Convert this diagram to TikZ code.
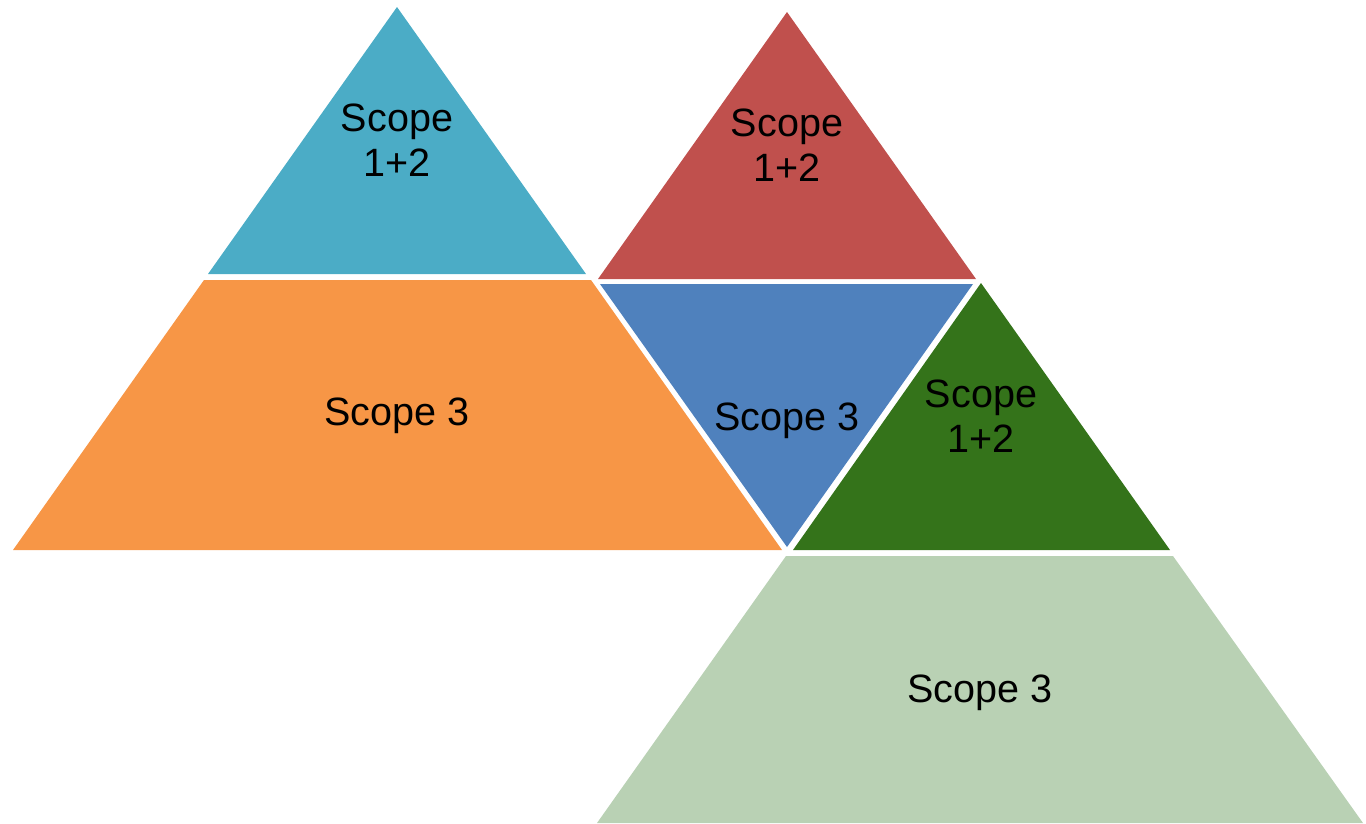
\documentclass[tikz,border=0pt]{standalone}
\usepackage{fontspec}
\setmainfont{Liberation Sans}
\usepackage{tikz}
\usetikzlibrary{positioning}

\definecolor{scopecyan}{HTML}{4BACC6}
\definecolor{scopeorange}{HTML}{F79646}
\definecolor{scopered}{HTML}{C0504D}
\definecolor{scopeblue}{HTML}{4F81BD}
\definecolor{scopegreen}{HTML}{34731A}
\definecolor{scopelight}{HTML}{B9D1B4}

\tikzset{
	scopetext/.style={align=center, inner sep=0pt, font=\fontsize{22.5pt}{25.6pt}\selectfont}
}

\begin{document}
\begin{tikzpicture}[x=0.02cm, y=-0.02cm]
	\useasboundingbox (0,0) rectangle (1366,823);
	% left pyramid
	\fill[scopecyan] (397,7) -- (586,274) -- (208,274) -- cycle;
	\fill[scopeorange] (204,280) -- (591,280) -- (782,550) -- (13,550) -- cycle;
	% right pyramid
	\fill[scopered] (787,12) -- (976,279) -- (598,279) -- cycle;
	\fill[scopeblue] (600,284) -- (973,284) -- (787,547) -- cycle;
	\fill[scopegreen] (981,283) -- (1170,550) -- (793,550) -- cycle;
	\fill[scopelight] (786,556) -- (1173,556) -- (1363,823) -- (597,823) -- cycle;
	% labels
	\path (397,140) node (cyan) [scopetext] {Scope\\1+2}
		  (397,416) node (orange) [scopetext] {Scope 3}
		  (787,145) node (red) [scopetext] {Scope\\1+2}
		  (787,421) node (blue) [scopetext] {Scope 3}
		  (981,416) node (green) [scopetext] {Scope\\1+2}
		  (980,693) node (light) [scopetext] {Scope 3};
\end{tikzpicture}
\end{document}
